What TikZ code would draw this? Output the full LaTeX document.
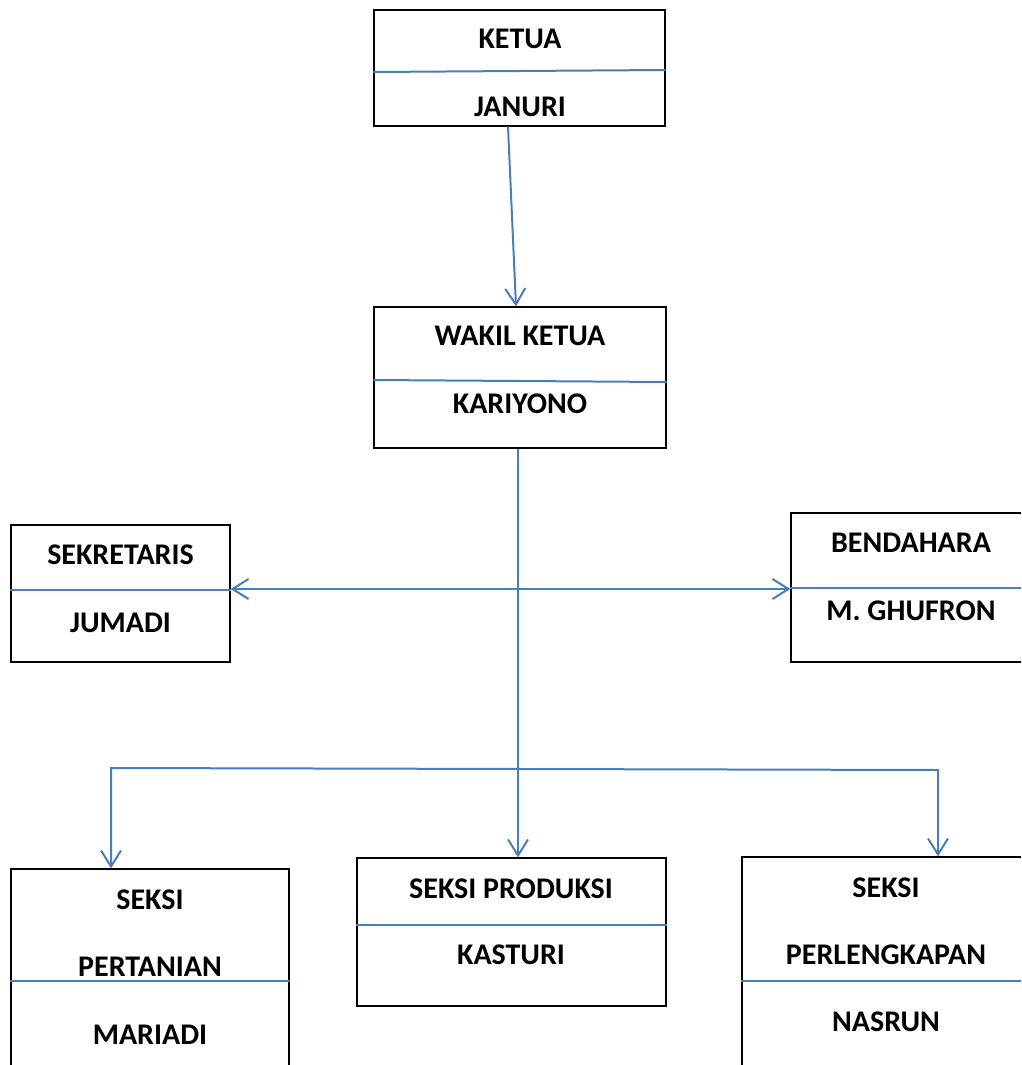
\documentclass[tikz,border=0pt]{standalone}
\usepackage{fontspec}
\setmainfont{Carlito}
\usetikzlibrary{arrows.meta}
\definecolor{lineblue}{HTML}{4A7EBB}
\tikzset{
  box/.style={draw=black, line width=1.3pt, inner sep=0pt, fill=none},
  lbl/.style={font=\bfseries\fontsize{30}{35}\selectfont, inner sep=0pt, text height=19pt, text depth=0pt},
  div/.style={draw=lineblue, line width=2pt},
  conn/.style={draw=lineblue, line width=2pt, line join=miter},
  tip/.style={-{Straight Barb[length=16pt,width=20pt,line width=2pt]}},
  tips/.style={{Straight Barb[length=16pt,width=20pt,line width=2pt]}-{Straight Barb[length=16pt,width=20pt,line width=2pt]}}
}
\begin{document}
\begin{tikzpicture}[x=1pt,y=-1pt]
\useasboundingbox (0,0) rectangle (1021,1065);
\clip (0,0) rectangle (1021,1065);
% boxes
\node[box, minimum width=291pt, minimum height=116pt] (ketua) at (519.5,68) {};
\node[box, minimum width=292pt, minimum height=141pt] (wakil) at (520,377.5) {};
\node[box, minimum width=219pt, minimum height=137pt] (sek) at (120.5,593.5) {};
\node[box, minimum width=239pt, minimum height=149pt] (bend) at (910.5,587.5) {};
\node[box, minimum width=278pt, minimum height=211pt] (pert) at (150,974.5) {};
\node[box, minimum width=309pt, minimum height=148pt] (prod) at (511.5,932) {};
\node[box, minimum width=288pt, minimum height=223pt] (perl) at (886,968.5) {};
% dividers
\draw[div] (ketua.west |- 0,72) -- (ketua.east |- 0,70);
\draw[div] (wakil.west |- 0,380) -- (wakil.east |- 0,382);
\draw[div] (sek.west |- 0,590) -- (sek.east |- 0,590);
\draw[div] (bend.west |- 0,588) -- (bend.east |- 0,588);
\draw[div] (pert.west |- 0,981) -- (pert.east |- 0,981);
\draw[div] (prod.west |- 0,925) -- (prod.east |- 0,925);
\draw[div] (perl.west |- 0,981) -- (perl.east |- 0,981);
% labels
\node[lbl] (t1) at (520,39) {KETUA};
\node[lbl] (t2) at (520,107) {JANURI};
\node[lbl] (t3) at (520,336) {WAKIL KETUA};
\node[lbl] (t4) at (520,404) {KARIYONO};
\node[lbl] (t5) at (120.5,555) {SEKRETARIS};
\node[lbl] (t6) at (120.5,623) {JUMADI};
\node[lbl] (t7) at (911,543) {BENDAHARA};
\node[lbl] (t8) at (911,611) {M. GHUFRON};
\node[lbl] (t9) at (150,900) {SEKSI};
\node[lbl] (t10) at (150,967) {PERTANIAN};
\node[lbl] (t11) at (150,1035) {MARIADI};
\node[lbl] (t12) at (511,889) {SEKSI PRODUKSI};
\node[lbl] (t13) at (511,955) {KASTURI};
\node[lbl] (t14) at (886,888) {SEKSI};
\node[lbl] (t15) at (886,955) {PERLENGKAPAN};
\node[lbl] (t16) at (886,1022) {NASRUN};
% connectors
\draw[conn, tip] ([xshift=-11.5pt]ketua.south) -- ([xshift=-4pt]wakil.north);
\draw[conn, tip] ([xshift=-2pt]wakil.south) -- ([xshift=6.5pt]prod.north);
\draw[conn, tips] ([yshift=4.5pt]sek.east) -- ([yshift=-1.5pt]bend.west);
\coordinate (brL) at (111,768);
\coordinate (brR) at (938,770);
\draw[conn, tips] ([xshift=-39pt]pert.north) -- (brL) -- (brR) -- ([xshift=52pt]perl.north);
\end{tikzpicture}
\end{document}
